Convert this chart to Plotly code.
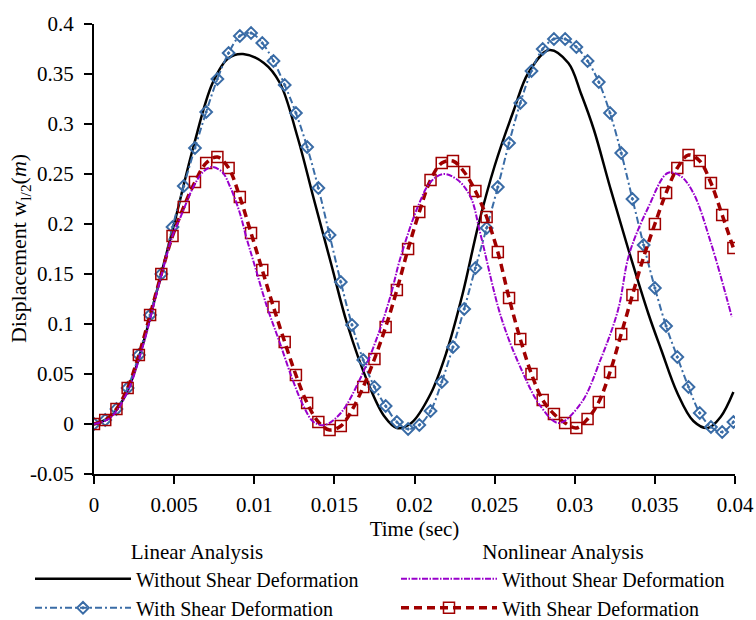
import plotly.graph_objects as go

# ---------------- data ----------------
# sample times of the marker series (s)
t_marker = [0.0, 0.0007, 0.0014, 0.0021, 0.0028, 0.0035, 0.0042, 0.0049, 0.0056, 0.0063,
            0.0070, 0.0077, 0.0084, 0.0091, 0.0098, 0.0105, 0.0112, 0.0119, 0.0126, 0.0133,
            0.0140, 0.0147, 0.0154, 0.0161, 0.0168, 0.0175, 0.0182, 0.0189, 0.0196, 0.0203,
            0.0210, 0.0217, 0.0224, 0.0231, 0.0238, 0.0245, 0.0252, 0.0259, 0.0266, 0.0273,
            0.0280, 0.0287, 0.0294, 0.0301, 0.0308, 0.0315, 0.0322, 0.0329, 0.0336, 0.0343,
            0.0350, 0.0357, 0.0364, 0.0371, 0.0378, 0.0385, 0.0392, 0.0399]

# Linear analysis, with shear deformation
lin_shear = [0.000, 0.004, 0.015, 0.036, 0.069, 0.109, 0.150, 0.197, 0.238, 0.276,
             0.312, 0.345, 0.371, 0.388, 0.391, 0.381, 0.363, 0.339, 0.311, 0.277,
             0.236, 0.189, 0.142, 0.099, 0.064, 0.037, 0.018, 0.002, -0.005, -0.001,
             0.013, 0.042, 0.077, 0.115, 0.156, 0.196, 0.237, 0.281, 0.321, 0.353,
             0.375, 0.385, 0.385, 0.377, 0.363, 0.342, 0.311, 0.271, 0.225, 0.179,
             0.136, 0.098, 0.067, 0.037, 0.011, -0.003, -0.008, 0.002]

# Nonlinear analysis, with shear deformation
nonlin_shear = [0.000, 0.004, 0.015, 0.036, 0.069, 0.109, 0.150, 0.188, 0.217, 0.242,
                0.261, 0.267, 0.256, 0.227, 0.191, 0.154, 0.117, 0.082, 0.049, 0.021,
                0.002, -0.006, -0.002, 0.014, 0.037, 0.065, 0.097, 0.134, 0.175, 0.212,
                0.244, 0.261, 0.263, 0.252, 0.233, 0.207, 0.172, 0.126, 0.085, 0.050,
                0.024, 0.010, 0.001, -0.004, 0.005, 0.022, 0.052, 0.090, 0.129, 0.167,
                0.200, 0.231, 0.256, 0.269, 0.263, 0.241, 0.209, 0.176]

# Linear analysis, without shear deformation
t_lin = [0.0, 0.001, 0.002, 0.003, 0.004, 0.005, 0.0062, 0.0074, 0.0084, 0.0093,
         0.0106, 0.0116, 0.0127, 0.0137, 0.0148, 0.0158, 0.0171, 0.0181, 0.0189, 0.0198,
         0.0210, 0.0220, 0.0230, 0.0240, 0.0250, 0.0262, 0.0271, 0.0284, 0.0296, 0.0304,
         0.0312, 0.0322, 0.0333, 0.0346, 0.0354, 0.0364, 0.0374, 0.0383, 0.0391, 0.0399]
lin_noshear = [0.000, 0.007, 0.030, 0.077, 0.138, 0.200, 0.277, 0.341, 0.366, 0.370,
               0.361, 0.341, 0.287, 0.226, 0.160, 0.100, 0.041, 0.008, -0.004, 0.001,
               0.030, 0.072, 0.130, 0.200, 0.258, 0.314, 0.351, 0.374, 0.361, 0.330,
               0.294, 0.237, 0.177, 0.110, 0.074, 0.031, 0.003, -0.004, 0.007, 0.032]

# Nonlinear analysis, without shear deformation
t_nonlin = [0.0, 0.001, 0.002, 0.003, 0.004, 0.0049, 0.0054, 0.0062, 0.0068, 0.00735,
            0.0080, 0.0085, 0.0091, 0.0095, 0.0100, 0.0108, 0.0116, 0.0124, 0.0131, 0.0137,
            0.0144, 0.0154, 0.0166, 0.0177, 0.0185, 0.0191, 0.0202, 0.0210, 0.0218, 0.0227,
            0.0235, 0.0241, 0.0254, 0.0266, 0.0279, 0.0290, 0.0304, 0.0316, 0.0327, 0.0334,
            0.0346, 0.0358, 0.0366, 0.0374, 0.0385, 0.0398]
nonlin_noshear = [0.000, 0.006, 0.029, 0.075, 0.136, 0.188, 0.207, 0.237, 0.252, 0.257,
                  0.252, 0.237, 0.211, 0.187, 0.160, 0.117, 0.081, 0.044, 0.017, 0.002,
                  -0.001, 0.011, 0.045, 0.088, 0.128, 0.165, 0.217, 0.242, 0.250, 0.244,
                  0.227, 0.191, 0.107, 0.057, 0.017, 0.001, 0.021, 0.064, 0.114, 0.170,
                  0.217, 0.251, 0.248, 0.231, 0.181, 0.107]

x_tick_vals = [0, 0.005, 0.01, 0.015, 0.02, 0.025, 0.03, 0.035, 0.04]
x_tick_text = ["0", "0.005", "0.01", "0.015", "0.02", "0.025", "0.03", "0.035", "0.04"]
y_tick_vals = [-0.05, 0, 0.05, 0.1, 0.15, 0.2, 0.25, 0.3, 0.35, 0.4]
y_tick_text = ["-0.05", "0", "0.05", "0.1", "0.15", "0.2", "0.25", "0.3", "0.35", "0.4"]

# ---------------- styling ----------------
FONT = "Liberation Serif"
BLUE = "#3A6CA6"
RED = "#A00000"
PURPLE = "#9900CC"

fig = go.Figure()

fig.add_trace(go.Scatter(
    x=t_lin, y=lin_noshear, mode="lines", line_shape="spline",
    line=dict(color="black", width=2.5),
    name="Without Shear Deformation", legend="legend", legendrank=1))

fig.add_trace(go.Scatter(
    x=t_marker, y=lin_shear, mode="lines+markers", line_shape="spline",
    line=dict(color=BLUE, width=2, dash="7px,3px,2px,3px"),
    marker=dict(symbol="diamond-open-dot", size=9, color=BLUE, line=dict(color=BLUE, width=2)),
    name="With Shear Deformation", legend="legend", legendrank=2))

fig.add_trace(go.Scatter(
    x=t_marker, y=nonlin_shear, mode="lines+markers", line_shape="spline",
    line=dict(color=RED, width=3.5, dash="8px,5px"),
    marker=dict(symbol="square-open", size=11, color=RED, line=dict(color=RED, width=1.5)),
    name="With Shear Deformation", legend="legend2", legendrank=2))

fig.add_trace(go.Scatter(
    x=t_nonlin, y=nonlin_noshear, mode="lines", line_shape="spline",
    line=dict(color=PURPLE, width=2, dash="6px,1.5px,1.5px,1.5px"),
    name="Without Shear Deformation", legend="legend2", legendrank=1))

legend_common = dict(
    orientation="v", yanchor="top", xanchor="left",
    xref="container", yref="container",
    itemwidth=96, bgcolor="rgba(0,0,0,0)", borderwidth=0,
    font=dict(family=FONT, size=20, color="black"),
    traceorder="normal", tracegroupgap=0,
)

fig.update_layout(
    width=756, height=620,
    margin=dict(l=94, r=21, t=24, b=146, autoexpand=False),
    paper_bgcolor="white", plot_bgcolor="white",
    font=dict(family=FONT, size=21, color="black"),
    showlegend=True,
    legend=dict(x=30 / 756, y=(620 - 532) / 620,
                title=dict(text="Linear Analysis", side="top center",
                           font=dict(family=FONT, size=21, color="black")),
                **legend_common),
    legend2=dict(x=396 / 756, y=(620 - 532) / 620,
                 title=dict(text="Nonlinear Analysis", side="top center",
                            font=dict(family=FONT, size=21, color="black")),
                 **legend_common),
    xaxis=dict(
        range=[0, 0.04], tickvals=x_tick_vals, ticktext=x_tick_text,
        showline=True, linecolor="black", linewidth=2,
        ticks="outside", ticklen=8, tickwidth=2, tickcolor="black",
        ticklabelstandoff=3,
        showgrid=False, zeroline=False,
        tickfont=dict(family=FONT, size=21, color="black"),
        title=dict(text="Time (sec)", standoff=0,
                   font=dict(family=FONT, size=21, color="black")),
    ),
    yaxis=dict(
        range=[-0.05, 0.4], tickvals=y_tick_vals, ticktext=y_tick_text,
        showline=True, linecolor="black", linewidth=2,
        ticks="outside", ticklen=8, tickwidth=2, tickcolor="black",
        ticklabelstandoff=6,
        showgrid=False, zeroline=False,
        tickfont=dict(family=FONT, size=21, color="black"),
    ),
    annotations=[dict(
        text="Displacement w<sub>l/2</sub>(<i>m</i>)",
        xref="paper", yref="paper", x=-0.1154, y=0.5,
        xanchor="center", yanchor="middle", textangle=-90, showarrow=False,
        font=dict(family=FONT, size=22, color="black"),
    )],
)

fig.write_html("out.html")
